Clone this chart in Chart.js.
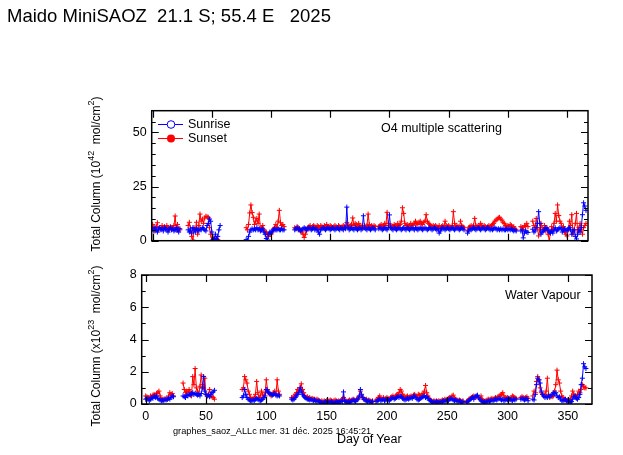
<!DOCTYPE html>
<html>
<head>
<meta charset="utf-8">
<script src="https://cdn.jsdelivr.net/npm/chart.js@4.4.1/dist/chart.umd.min.js"></script>
<style>
  html, body { margin: 0; padding: 0; background: #fff; }
  #page { position: relative; width: 623px; height: 455px; overflow: hidden;
          font-family: "Liberation Sans", Arial, sans-serif; color: #000; }
  canvas { position: absolute; left: 0; top: 0; }
  .txt { position: absolute; line-height: 1; white-space: pre; }
  .ytitle { position: absolute; line-height: 1; white-space: pre; font-size: 12px;
            transform: translate(-50%, -50%) rotate(-90deg); }
  .ytitle sup { font-size: 9px; vertical-align: 6px; line-height: 0; }
</style>
</head>
<body>
<div id="page">
  <canvas id="o4Chart" width="623" height="455"></canvas>
  <canvas id="h2oChart" width="623" height="455"></canvas>

  <div class="txt" style="left:7px;top:7px;font-size:18.5px">Maido MiniSAOZ  21.1 S; 55.4 E   2025</div>
  <div class="txt" style="left:188px;top:117.7px;font-size:12.5px">Sunrise</div>
  <div class="txt" style="left:188px;top:132.1px;font-size:12.5px">Sunset</div>
  <div class="txt" style="left:381px;top:122.1px;font-size:12.5px">O4 multiple scattering</div>
  <div class="txt" style="left:505px;top:288.7px;font-size:12.5px">Water Vapour</div>
  <div class="txt" style="left:173px;top:427.2px;font-size:9.2px">graphes_saoz_ALLc mer. 31 déc. 2025 16:45:21</div>
  <div class="txt" style="left:337px;top:433.4px;font-size:12.5px">Day of Year</div>
  <div class="ytitle" style="left:96px;top:174px">Total Column (10<sup>42</sup>  mol/cm<sup>2</sup>)</div>
  <div class="ytitle" style="left:96px;top:346px">Total Column (x10<sup>23</sup>  mol/cm<sup>2</sup>)</div>
</div>

<script>
// First day of each block of measurements (day of year)
const segmentStart = [0, 30, 79, 120, 311, 321];

// O4 multiple scattering, sunrise (10^42 mol/cm2)
const o4Sunrise = [
  [5.5,4.5,6,5,4,5.5,6,5,5.5,4.5, 6,5.5,5,4,5.5,6,5,5.5,4.5,5, 6,5,4,5.5],
  [5,4,5.5,3.5,6,5,4,5.5,5,4.5, 5.5,5,6,5.5,5,4.5,7,8,10,9, 4,0.5,1,3,0.5,2,5,7],
  [0.5,0.2,2,4,5,5.5,5,5.5,5,6, 5,5.5,4.5,5,5.5,4,3,1,0.3,3, 4,3.5,4.5,5,5.5,5,5,5.5,5,5, 5.5,5,5],
  [5,5.5,6,5,5.5,4.5,5,5.5,6,5.5,
   5,5.5,6,5.5,5,5.5,6,5,5.5,5,
   4,3,5,5.5,6,5.5,5,5.5,6,5.5,
   5,5.5,6,5.5,5,5.5,6,5.5,5,6,
   5.5,5,6,5.5,15.5,6,5,5.5,6,5.5,
   5,6,5.5,5,5.5,6,5,5.5,11.5,6,
   5.5,5,6,5.5,5,5.5,6,5.5,5,null,
   null,5.5,6,5.5,5,5.5,6,5.5,5,6,
   11.9,6,5.5,5,6,5.5,5,5.5,6,5.5,
   5,5.5,6,5.5,5,6,5.5,5,5.5,6,
   5.5,5,6,5.5,5,5.5,6,5.5,5,5.5,
   6,5.5,5,5.5,6,5.5,5,5.5,6,5.5,
   5,5.5,3.5,4.5,5.5,6,5.5,5,5.5,6,
   5.5,5,5.5,6,5.5,5,5.5,6,5.5,5,
   5.5,6,5.5,5,null,null,3.5,4.5,5.5,5,
   5.5,6,5.5,5,5.5,6,5.5,5,5.5,6,
   5.5,5,5.5,6,5.5,5,5.5,5,5.5,6,
   5.5,5,5.5,5,5.5,5,5.5,5,5,5.5,
   5,5.5,5,5.5,5,4.5,5,4.5],
  [4.5,5,1.3,3.5,4.5,4,3.8],
  [5.3,4,4.5,6,8,13.4,8,3,4,4.5, 5,6,5.5,5,4,3.5,4.5,3.5,5,6,
   4.5,5,5.5,6,5.5,4,5,5.5,5,4.5, 5.5,6,5,3,4.5,5,2,0.8,3,5, 4,6,12,17.5,16,14]
];

// O4 multiple scattering, sunset
const o4Sunset = [
  [7.5,6,4.5,6.5,8.3,5,6,5.5,7,6, 6.5,5.5,7,6,5,6.5,6,5.5,7,11.4, 5,7.5,5.5,5],
  [7,8.5,4.5,2,0.3,6,5,8.5,3,7, 12.3,9,10,8,10.5,11.3,11,10.8,6,3, 0.2,1.5,0.8,0.3,1,0.5,null,null],
  [6,5,7.5,12.8,16.5,13,10.8,7.5,9,10.3, 8,12.3,5.4,6,7,5,4,3.9,2.7,2, 3.3,3,4,5.4,6,7.5,6,9,14,8.3, 7,7.5,6.5],
  [6,5.5,6.5,6,5,4.5,4,3,1.5,3,
   4.5,6,6.5,7,6,6.5,7,6.5,6,7,
   6.5,6,7,6.5,6,7,6.5,7.5,6.5,6,
   7,6.5,6,6.5,7,6.5,6,7,6.5,6,
   6.5,7,6.5,6,8.3,7,6.5,7,7.5,10.5,
   7,8,7.5,6.5,8,7,6.5,7,6,7,
   6.5,7,12.3,7.5,6.5,7,6.5,7,6.5,null,
   null,6.5,7,7.5,6.5,7,8,7,13.1,8,
   7,6.5,7,6.5,7.5,7,6.5,8,7,7.5,
   9,15.2,12.6,8,7,7.5,6.5,7,8,7,
   7.5,8,9,8,7.5,8.5,9,8,7.5,8.5,
   9,12,9,8,7.5,7,6.5,7,6.5,7,
   6.5,5.5,7,6,6.5,7,6.5,9,7,6.5,
   7,6.5,6,7,13.4,8,6.5,7,6.5,6,
   9,7,6.5,6,null,null,4.5,6,6.5,7,
   6.5,7,10.3,7,6.5,7,6.5,8,7,6.5,
   7,6.5,6,6.5,7,6.5,7,7.5,8,9,
   9.5,10,10.5,10.8,10,9.5,8.5,8,7,6.5,
   7,6.5,7.5,7,6,6.5,5.5,5],
  [6.5,6,5,7,6.5,8,6.5],
  [9,7,6,10.3,6,2.2,5,8,6,5.2, 7,4.5,6,3,0,4,6.5,5,8,12.6,
   9,16.5,11.6,9,8,6,6.5,4,3,2.2, 5,9,7,12,3,5,8,12.6,4,6, 8,5,3,6,7,8]
];

// Water vapour, sunrise (x10^23 mol/cm2)
const h2oSunrise = [
  [0.3,0.35,0.3,0.2,0.3,0.4,0.35,0.5,0.4,0.5, 0.35,0.3,0.25,0.2,0.25,0.2,0.3,0.25,0.3,0.35, 0.3,0.4,0.5,0.45],
  [null,0.5,0.45,0.4,0.55,0.5,0.6,0.55,0.65,0.7, 0.6,0.65,0.6,0.55,0.6,0.5,0.65,1.0,1.7,0.8, 0.6,0.5,0.55,0.45,0.6,0.7,0.75,0.85],
  [null,0.4,0.5,0.9,0.6,0.4,0.3,0.25,0.2,0.2, 0.25,0.2,0.3,0.35,0.3,0.25,0.2,0.25,0.3,0.4, 0.5,0.9,0.8,0.7,0.65,0.6,0.55,0.6,0.65,0.55, 0.5,0.55,0.5],
  [null,0.3,0.25,0.3,0.4,0.5,0.6,0.7,1.0,0.8,
   0.6,0.5,0.4,0.35,0.3,0.3,0.25,0.3,0.25,0.2,
   0.25,0.2,0.15,0.2,0.15,0.1,0.1,0.05,0.1,0.15,
   0.1,0.15,0.1,0.1,0.15,0.1,0.05,0.1,0.15,0.1,
   0.1,0.15,0.2,0.15,0.75,0.2,0.15,0.1,0.15,0.1,
   0.15,0.2,0.25,0.2,0.15,0.25,0.3,0.5,0.9,0.6,
   0.4,0.3,0.25,0.2,0.15,0.2,0.15,0.1,0.15,null,
   null,0.15,0.2,0.25,0.3,0.2,0.25,0.3,0.2,0.25,
   0.3,0.25,0.2,0.3,0.35,0.4,0.3,0.35,0.4,0.45,
   0.4,0.5,0.45,0.35,0.3,0.25,0.3,0.35,0.3,0.35,
   0.4,0.35,0.45,0.5,0.4,0.3,0.25,0.3,0.35,0.4,
   0.45,0.5,0.4,0.45,0.35,0.25,0.2,0.15,0.1,0.15,
   0.1,0.15,0.1,0.1,0.15,0.1,0.15,0.2,0.15,0.2,
   0.25,0.2,0.3,0.35,0.3,0.25,0.2,0.25,0.2,0.15,
   0.2,0.15,0.1,0.15,null,null,0.1,0.15,0.2,0.3,
   0.35,0.4,0.3,0.45,0.5,0.55,0.4,0.3,0.2,0.15,
   0.1,0.15,0.1,0.15,0.2,0.15,0.2,0.25,0.2,0.25,
   0.3,0.25,0.3,0.35,0.3,0.25,0.3,0.2,0.25,0.3,
   0.25,0.35,0.3,0.25,0.2,0.3,0.25,0.3],
  [0.3,0.35,0.3,0.25,0.3,0.35,0.2],
  [0.3,0.25,0.6,1.2,1.6,1.5,1.3,0.8,0.6,0.5, 0.4,0.45,0.4,0.5,0.45,0.5,0.6,0.7,0.65,0.7,
   0.5,0.4,0.45,0.3,0.2,0.2,0.25,0.3,0.2,0.15, 0.2,0.1,0.15,0.3,0.45,0.5,0.35,0.3,0.4,0.6, 1.2,1.6,2.5,2.3,2.2,null]
];

// Water vapour, sunset
const h2oSunset = [
  [0.5,0.45,0.4,0.35,0.5,0.4,0.55,0.6,0.5,0.65, 0.7,0.8,0.5,0.3,0.25,0.3,0.3,0.35,0.3,0.5, 0.7,0.6,0.65,0.5],
  [null,1.3,0.9,0.7,0.8,0.75,0.9,0.7,0.5,1.7, 1.2,2.2,1.0,0.8,0.6,1.1,1.8,1.2,1.0,1.6, 0.6,0.5,0.6,0.9,0.5,0.45,0.4,0.3],
  [null,0.9,1.0,1.7,1.5,1.3,0.8,0.6,0.4,0.3, 0.35,0.4,0.6,1.4,0.7,0.4,0.5,0.8,0.6,0.4, 0.7,1.5,0.9,0.7,0.6,0.5,0.6,0.7,0.8,0.6, 1.5,0.8,0.6],
  [null,0.4,0.35,0.5,0.6,0.7,0.9,0.8,1.0,1.25,
   0.9,0.7,0.5,0.4,0.45,0.35,0.4,0.3,0.35,0.3,
   0.3,0.25,0.3,0.25,0.2,0.15,0.2,0.15,0.2,0.15,
   0.2,0.15,0.2,0.25,0.2,0.15,0.2,0.25,0.2,0.15,
   0.2,0.15,0.2,0.3,0.4,0.25,0.2,0.15,0.2,0.25,
   0.2,0.25,0.3,0.25,0.2,0.3,0.35,0.45,0.8,0.5,
   0.4,0.3,0.25,0.3,0.2,0.25,0.2,0.15,0.2,null,
   null,0.25,0.3,0.4,0.5,0.35,0.3,0.4,0.3,0.35,
   0.4,0.35,0.3,0.4,0.45,0.5,0.4,0.5,0.55,0.6,
   0.7,0.9,0.8,0.6,0.5,0.4,0.45,0.5,0.4,0.45,
   0.5,0.45,0.55,0.6,0.5,0.4,0.6,0.55,0.5,0.6,
   0.65,0.8,1.15,0.7,0.5,0.35,0.25,0.2,0.15,0.2,
   0.15,0.2,0.15,0.2,0.15,0.2,0.25,0.2,0.3,0.25,
   0.3,0.35,0.4,0.35,0.5,0.55,0.35,0.3,0.25,0.2,
   0.25,0.2,0.15,0.2,null,null,0.15,0.2,0.3,0.35,
   0.4,0.45,0.5,0.4,0.45,0.5,0.4,0.35,0.5,0.3,
   0.2,0.15,0.2,0.25,0.3,0.25,0.3,0.35,0.3,0.35,
   0.4,0.35,0.45,0.5,0.55,0.6,0.7,0.5,0.4,0.35,
   0.4,0.35,0.3,0.4,0.5,0.45,0.4,0.35],
  [0.4,0.45,0.4,0.35,0.4,0.45,0.35],
  [0.5,0.8,0.7,1.4,1.7,1.5,1.0,0.7,0.6,0.5, 0.6,0.8,1.6,0.6,0.4,0.5,0.45,0.5,0.8,1.2,
   2.1,1.5,1.3,0.8,0.5,0.4,0.3,0.25,0.2,0.25, 0.2,0.3,0.5,0.8,0.6,0.5,0.4,0.6,0.8,0.7, 0.9,1.2,1.1,1.0,1.0,null]
];

// Axis ticks
const dayTicks = [0, 50, 100, 150, 200, 250, 300, 350];
const o4Ticks = [0, 25, 50];
const o4MinorTicks = [5, 10, 15, 20, 30, 35, 40, 45, 55];
const h2oTicks = [0, 2, 4, 6, 8];
const h2oMinorTicks = [1, 3, 5, 7];

const W = 623, H = 455;
const BLUE = '#0000ff', RED = '#ff0000';
const FONT = '"Liberation Sans", Arial, sans-serif';

// turn the day blocks into {x, y} points, with a break between blocks
function buildPoints(segments) {
  const pts = [];
  segments.forEach((seg, k) => {
    if (k > 0) pts.push({ x: segmentStart[k] - 0.5, y: null });
    seg.forEach((v, i) => pts.push({ x: segmentStart[k] + i, y: v }));
  });
  return pts;
}

function dataset(label, segments, color) {
  return {
    label: label,
    data: buildPoints(segments),
    borderColor: color,
    backgroundColor: color,
    borderWidth: 1,
    pointStyle: 'cross',
    pointRadius: 2.5,
    pointBorderWidth: 1,
    pointHoverRadius: 2.5,
    tension: 0,
    spanGaps: false
  };
}

// box round the plot area and inward ticks on all four sides
const framePlugin = {
  id: 'frame',
  afterDatasetsDraw(chart, args, opts) {
    const { ctx, chartArea: a, scales } = chart;
    ctx.save();
    ctx.strokeStyle = '#000';
    ctx.lineWidth = 1.5;
    ctx.strokeRect(a.left, a.top, a.right - a.left, a.bottom - a.top);
    ctx.lineWidth = 1.2;
    ctx.beginPath();
    opts.xTicks.forEach(v => {
      const x = Math.round(scales.x.getPixelForValue(v)) + 0.5;
      ctx.moveTo(x, a.bottom); ctx.lineTo(x, a.bottom - 7);
      ctx.moveTo(x, a.top); ctx.lineTo(x, a.top + 7);
    });
    const yTick = (v, len) => {
      const y = Math.round(scales.y.getPixelForValue(v)) + 0.5;
      ctx.moveTo(a.left, y); ctx.lineTo(a.left + len, y);
      ctx.moveTo(a.right, y); ctx.lineTo(a.right - len, y);
    };
    opts.yMajor.forEach(v => yTick(v, 7));
    opts.yMinor.forEach(v => yTick(v, 4));
    ctx.stroke();

    // legend symbols (top panel only)
    if (opts.legend) {
      ctx.lineWidth = 1;
      ctx.strokeStyle = BLUE;
      ctx.beginPath(); ctx.moveTo(158, 124.5); ctx.lineTo(183, 124.5); ctx.stroke();
      ctx.fillStyle = '#fff';
      ctx.beginPath(); ctx.arc(171, 124.5, 3.8, 0, Math.PI * 2); ctx.fill(); ctx.stroke();
      ctx.strokeStyle = RED; ctx.fillStyle = RED;
      ctx.beginPath(); ctx.moveTo(158, 138.5); ctx.lineTo(183, 138.5); ctx.stroke();
      ctx.beginPath(); ctx.arc(171, 138.5, 4, 0, Math.PI * 2); ctx.fill();
    }
    ctx.restore();
  }
};

function makeChart(id, cfg) {
  const ctx = document.getElementById(id).getContext('2d');
  return new Chart(ctx, {
    type: 'line',
    data: {
      datasets: [
        dataset('Sunrise', cfg.sunrise, BLUE),
        dataset('Sunset', cfg.sunset, RED)
      ]
    },
    plugins: [framePlugin],
    options: {
      responsive: false,
      animation: false,
      events: [],
      layout: { padding: { left: 0, top: cfg.top, right: W - cfg.right, bottom: 0 } },
      plugins: {
        legend: { display: false },
        tooltip: { enabled: false },
        frame: { xTicks: dayTicks, yMajor: cfg.yTicks, yMinor: cfg.yMinor, legend: cfg.legend }
      },
      scales: {
        x: {
          type: 'linear',
          min: cfg.xMin,
          max: cfg.xMax,
          grid: { display: false, drawTicks: false },
          border: { display: false },
          afterBuildTicks: s => { s.ticks = dayTicks.map(v => ({ value: v })); },
          afterFit: s => { s.height = H - cfg.bottom; },
          ticks: {
            display: cfg.xLabels,
            autoSkip: false,
            maxRotation: 0,
            padding: 5,
            color: '#000',
            font: { family: FONT, size: 12.5 },
            callback: v => String(v)
          }
        },
        y: {
          type: 'linear',
          min: 0,
          max: cfg.yMax,
          grid: { display: false, drawTicks: false },
          border: { display: false },
          afterBuildTicks: s => { s.ticks = cfg.yTicks.map(v => ({ value: v })); },
          afterFit: s => { s.width = cfg.left; },
          ticks: {
            padding: 5,
            color: '#000',
            font: { family: FONT, size: 12.5 },
            callback: v => String(v)
          }
        }
      }
    }
  });
}

makeChart('o4Chart', {
  sunrise: o4Sunrise, sunset: o4Sunset,
  left: 151.7, right: 588, top: 110.7, bottom: 240.7,
  xMin: -0.8, xMax: 367.7, yMax: 60,
  yTicks: o4Ticks, yMinor: o4MinorTicks,
  xLabels: false, legend: true
});

makeChart('h2oChart', {
  sunrise: h2oSunrise, sunset: h2oSunset,
  left: 141.7, right: 592, top: 275, bottom: 404,
  xMin: -3.3, xMax: 370, yMax: 8,
  yTicks: h2oTicks, yMinor: h2oMinorTicks,
  xLabels: true, legend: false
});
</script>
</body>
</html>
